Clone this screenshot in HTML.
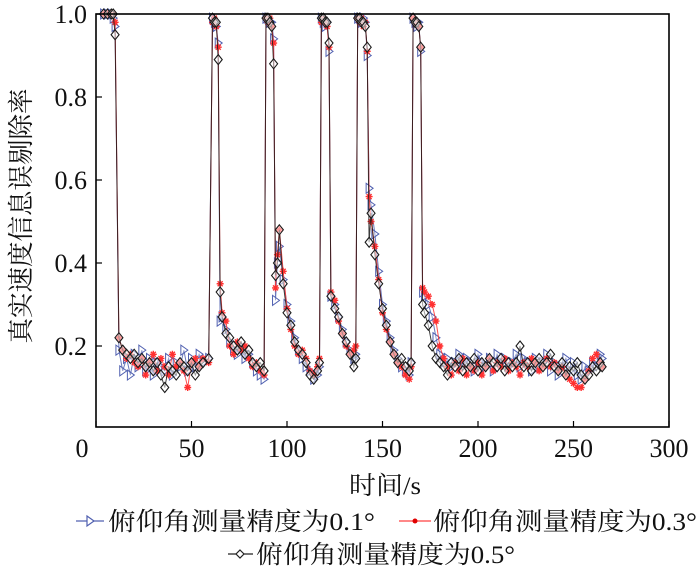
<!DOCTYPE html>
<html><head><meta charset="utf-8"><style>
html,body{margin:0;padding:0;background:#fff;}
svg{display:block;}
text{font-family:"Liberation Serif","Noto Serif CJK SC",serif;fill:#111;}
</style></head><body>
<svg id="chart" width="700" height="575" viewBox="0 0 700 575" xmlns="http://www.w3.org/2000/svg">
<g id="series"></g>
<rect x="96" y="14" width="573" height="413" fill="none" stroke="#000" stroke-width="1.6"/>
<g id="axes"></g>
<text transform="translate(30,216) rotate(-90)" text-anchor="middle" font-size="26" textLength="255" lengthAdjust="spacingAndGlyphs">真实速度信息误剔除率</text>
<text x="385" y="494" text-anchor="middle" font-size="25" textLength="72" lengthAdjust="spacingAndGlyphs">时间/s</text>
<g>
 <g>
  <line x1="76" y1="521" x2="104" y2="521" stroke="#5060b0" stroke-width="1.2"/>
  <polygon points="87,516 94,521 87,526" fill="#fff" stroke="#5060b0" stroke-width="1.2"/>
  <text x="108" y="530" font-size="25" textLength="267" lengthAdjust="spacingAndGlyphs">俯仰角测量精度为0.1°</text>
 </g>
 <g>
  <line x1="399" y1="521" x2="431" y2="521" stroke="#ff4040" stroke-width="1.2"/>
  <circle cx="415" cy="521" r="2.5" fill="#e00000"/>
  <text x="433" y="530" font-size="25" textLength="264" lengthAdjust="spacingAndGlyphs">俯仰角测量精度为0.3°</text>
 </g>
 <g>
  <line x1="228" y1="554" x2="253" y2="554" stroke="#222" stroke-width="1.2"/>
  <polygon points="240,550 244,554 240,558 236,554" fill="#fff" stroke="#222" stroke-width="1.2"/>
  <text x="256" y="563" font-size="25" textLength="259" lengthAdjust="spacingAndGlyphs">俯仰角测量精度为0.5°</text>
 </g>
</g>
</svg>
<script>
const times=[4,6,8,9,10,12,14,16,18,20,22,24,26,28,30,32,34,36,38,40,42,44,46,48,50,52,54,56,59,
61,62,63,64,65,66,68,70,72,74,76,78,80,82,84,86,88,
89,90,91,92,93,94,95,96,98,100,102,104,106,108,110,112,114,116,117,
118,119,120,121,122,123,125,127,129,131,133,135,136,
137,138,139,140,141,142,143,144,146,148,150,152,154,156,158,160,162,164,165,
166,167,168,169,170,171,172,174,176,178,180,182,184,186,188,190,192,194,196,198,200,202,204,206,208,210,212,214,216,218,220,222,224,226,228,230,232,234,236,238,240,242,244,246,248,250,252,254,256,258,260,262,264,265];
const seriesBlue=[1,1,1,0.99,0.97,0.19,0.14,0.17,0.13,0.18,0.15,0.19,0.14,0.17,0.13,0.16,0.15,0.14,0.17,0.13,0.16,0.15,0.19,0.14,0.17,0.15,0.18,0.16,0.17,
0.99,0.98,0.97,0.93,0.26,0.27,0.24,0.21,0.19,0.18,0.20,0.17,0.18,0.16,0.14,0.13,0.12,
0.99,0.99,0.98,0.98,0.94,0.31,0.40,0.44,0.36,0.30,0.26,0.22,0.19,0.17,0.15,0.14,0.12,0.13,0.15,
0.99,0.98,0.97,0.98,0.91,0.32,0.30,0.27,0.24,0.21,0.19,0.17,0.18,
0.99,0.99,0.98,0.99,0.98,0.90,0.58,0.54,0.47,0.38,0.30,0.26,0.22,0.19,0.17,0.15,0.14,0.13,0.16,
0.99,0.98,0.97,0.98,0.91,0.33,0.32,0.30,0.27,0.22,0.18,0.16,0.17,0.15,0.16,0.18,0.15,0.17,0.16,0.14,0.18,0.16,0.15,0.17,0.14,0.18,0.16,0.17,0.15,0.16,0.18,0.15,0.17,0.16,0.14,0.17,0.15,0.16,0.18,0.14,0.16,0.13,0.15,0.17,0.14,0.16,0.13,0.12,0.15,0.14,0.16,0.15,0.18,0.17];
const seriesRed=[1,1,1,1,0.98,0.22,0.19,0.17,0.18,0.16,0.15,0.17,0.13,0.16,0.18,0.14,0.17,0.15,0.13,0.18,0.15,0.16,0.14,0.10,0.16,0.17,0.15,0.17,0.16,
0.98,0.99,0.97,0.92,0.35,0.28,0.26,0.20,0.18,0.21,0.19,0.20,0.17,0.15,0.16,0.14,0.13,
0.99,0.98,0.99,0.97,0.93,0.34,0.42,0.48,0.38,0.29,0.24,0.20,0.18,0.19,0.17,0.14,0.13,0.15,0.17,
0.98,0.99,0.98,0.97,0.92,0.33,0.31,0.26,0.23,0.20,0.18,0.19,0.20,
0.99,0.98,0.99,0.97,0.98,0.91,0.56,0.50,0.44,0.36,0.28,0.24,0.21,0.18,0.16,0.15,0.13,0.12,0.15,
0.99,0.98,0.98,0.97,0.92,0.34,0.33,0.32,0.30,0.26,0.20,0.17,0.15,0.13,0.16,0.14,0.17,0.13,0.15,0.14,0.16,0.13,0.15,0.17,0.14,0.16,0.15,0.17,0.14,0.16,0.15,0.13,0.16,0.15,0.17,0.16,0.14,0.15,0.17,0.15,0.16,0.14,0.15,0.13,0.12,0.11,0.10,0.10,0.12,0.14,0.17,0.18,0.16,0.15];
const seriesBlack=[1,1,1,1,0.95,0.22,0.19,0.18,0.17,0.18,0.16,0.17,0.15,0.16,0.14,0.16,0.13,0.10,0.15,0.14,0.13,0.16,0.15,0.14,0.16,0.13,0.15,0.16,0.17,
0.99,0.98,0.98,0.89,0.33,0.27,0.23,0.22,0.20,0.19,0.21,0.18,0.19,0.16,0.15,0.16,0.14,
0.99,0.99,0.98,0.97,0.88,0.37,0.40,0.48,0.35,0.28,0.25,0.21,0.19,0.18,0.16,0.13,0.12,0.14,0.16,
0.99,0.99,0.98,0.98,0.93,0.32,0.29,0.27,0.23,0.21,0.18,0.15,0.17,
0.99,0.99,0.98,0.98,0.97,0.92,0.45,0.52,0.42,0.35,0.29,0.25,0.21,0.18,0.16,0.17,0.15,0.14,0.16,
0.99,0.98,0.98,0.97,0.92,0.30,0.28,0.25,0.20,0.17,0.16,0.15,0.13,0.16,0.15,0.17,0.14,0.16,0.15,0.17,0.14,0.16,0.15,0.17,0.16,0.15,0.17,0.14,0.16,0.15,0.16,0.20,0.15,0.16,0.14,0.16,0.17,0.15,0.16,0.18,0.15,0.14,0.16,0.13,0.15,0.14,0.16,0.13,0.12,0.13,0.15,0.14,0.16,0.15];
const xTicks=[0,50,100,150,200,250,300];
const yTicks=[0.2,0.4,0.6,0.8,1.0];
const yTickLabels=["0.2","0.4","0.6","0.8","1.0"];

const NS="http://www.w3.org/2000/svg";
function xs(t){return 96+t*(573/300);}
function ys(v){return 14+(1-v)*415;}
function mk(tag,attrs,parent){const e=document.createElementNS(NS,tag);for(const k in attrs)e.setAttribute(k,attrs[k]);parent.appendChild(e);return e;}

const axes=document.getElementById('axes');
xTicks.forEach(function(t){
  const l=mk('line',{x1:xs(t),x2:xs(t),y1:427,y2:421,stroke:'#000','stroke-width':1.2},axes);
  
  
  const tx=mk('text',{x:(t===0?82:xs(t)),y:457,'text-anchor':'middle','font-size':26},axes);
  tx.textContent=String(t);
  
  
});
yTicks.forEach(function(v,i){
  const l=mk('line',{x1:96,x2:102,y1:ys(v),y2:ys(v),stroke:'#000','stroke-width':1.2},axes);
  
  
  const tx=mk('text',{x:87,y:ys(v)+9,'text-anchor':'end','font-size':26},axes);
  tx.textContent=yTickLabels[i];
  
  
});

const layer=document.getElementById('series');
function drawSeries(vals,color,name,marker){
  const g=mk('g',{},layer);
  
  
  const pts=vals.map(function(v,i){return xs(times[i]).toFixed(1)+','+ys(v).toFixed(1);}).join(' ');
  const pl=mk('polyline',{points:pts,fill:'none',stroke:color,'stroke-width':1,'stroke-opacity':0.85},g);
  
  
  vals.forEach(function(v,i){
    const x=xs(times[i]),y=ys(v);
    let m;
    if(marker==='tri'){
      m=mk('polygon',{points:(x-3)+','+(y-5)+' '+(x+4)+','+y+' '+(x-3)+','+(y+5),fill:'#fff','fill-opacity':0.3,stroke:color,'stroke-width':1},g);
    }else if(marker==='star'){
      m=mk('path',{d:'M'+(x-3.5)+' '+y+'H'+(x+3.5)+'M'+x+' '+(y-3.5)+'V'+(y+3.5)+'M'+(x-2.5)+' '+(y-2.5)+'L'+(x+2.5)+' '+(y+2.5)+'M'+(x-2.5)+' '+(y+2.5)+'L'+(x+2.5)+' '+(y-2.5),stroke:color,'stroke-width':1.4,fill:'none'},g);
    }else{
      m=mk('polygon',{points:x+','+(y-5)+' '+(x+4)+','+y+' '+x+','+(y+5)+' '+(x-4)+','+y,fill:'#fff','fill-opacity':0.5,stroke:color,'stroke-width':1.1},g);
    }
    
    
  });
}
drawSeries(seriesBlue,'#5060b0','series-0.1deg','tri');
drawSeries(seriesRed,'#ff3030','series-0.3deg','star');
drawSeries(seriesBlack,'#1a1a1a','series-0.5deg','dia');
</script>
</body></html>
